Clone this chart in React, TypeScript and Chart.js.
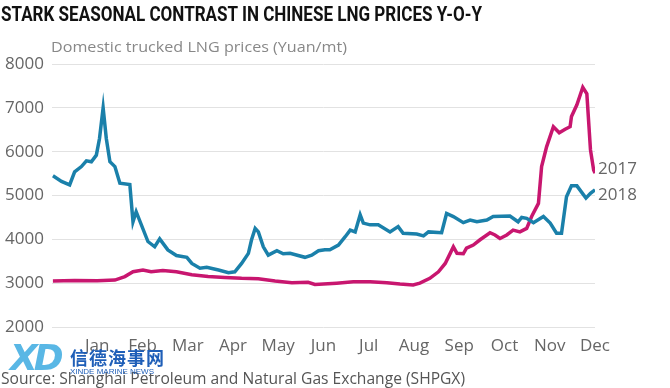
import React, { useEffect, useRef } from "react";
import { Chart, registerables } from "chart.js";

Chart.register(...registerables);

const monthLabels = ["Jan", "Feb", "Mar", "Apr", "May", "Jun", "Jul", "Aug", "Sep", "Oct", "Nov", "Dec"];
const yTicks = [2000, 3000, 4000, 5000, 6000, 7000, 8000];

// 2018 series (blue): x in month units (0 = start of axis, 12 = Dec), y in Yuan/mt
const x2018 = [0.02, 0.21, 0.39, 0.5, 0.65, 0.76, 0.87, 0.98, 1.05, 1.13, 1.2, 1.28, 1.39, 1.5, 1.72, 1.79, 1.86, 2.12, 2.27, 2.38, 2.56, 2.75, 2.98, 3.09, 3.27, 3.42, 3.68, 3.9, 4.04, 4.19, 4.34, 4.41, 4.49, 4.56, 4.67, 4.78, 4.97, 5.11, 5.26, 5.59, 5.74, 5.89, 6.03, 6.14, 6.33, 6.48, 6.59, 6.7, 6.81, 6.88, 7.03, 7.21, 7.47, 7.65, 7.76, 8.06, 8.21, 8.32, 8.61, 8.72, 8.87, 9.09, 9.24, 9.39, 9.61, 9.75, 10.12, 10.3, 10.38, 10.49, 10.64, 10.86, 11.01, 11.15, 11.26, 11.37, 11.48, 11.6, 11.8, 11.9, 12.0];
const y2018 = [5450, 5320, 5240, 5540, 5660, 5790, 5770, 5920, 6300, 7000, 6300, 5770, 5660, 5280, 5250, 4400, 4630, 3950, 3830, 4010, 3760, 3630, 3590, 3450, 3340, 3360, 3300, 3240, 3260, 3450, 3680, 3990, 4250, 4170, 3830, 3640, 3740, 3670, 3680, 3590, 3640, 3740, 3760, 3760, 3870, 4060, 4210, 4170, 4560, 4370, 4330, 4330, 4170, 4290, 4140, 4120, 4080, 4170, 4150, 4590, 4520, 4380, 4440, 4400, 4440, 4520, 4530, 4400, 4500, 4480, 4380, 4520, 4370, 4140, 4140, 4970, 5220, 5220, 4940, 5050, 5130];

// 2017 series (magenta)
const x2017 = [0.02, 0.5, 1.0, 1.39, 1.61, 1.79, 2.01, 2.19, 2.45, 2.75, 3.09, 3.45, 3.82, 4.19, 4.56, 4.93, 5.3, 5.66, 5.81, 6.29, 6.66, 7.03, 7.4, 7.69, 7.98, 8.13, 8.35, 8.54, 8.69, 8.8, 8.87, 8.95, 9.09, 9.16, 9.31, 9.46, 9.68, 9.79, 9.9, 10.05, 10.19, 10.34, 10.49, 10.6, 10.75, 10.82, 10.93, 11.08, 11.21, 11.34, 11.45, 11.48, 11.6, 11.73, 11.82, 11.9, 11.97, 12.0];
const y2017 = [3050, 3060, 3055, 3070, 3150, 3260, 3300, 3260, 3290, 3260, 3190, 3150, 3130, 3110, 3100, 3050, 3010, 3020, 2970, 3000, 3030, 3030, 3010, 2980, 2960, 3000, 3110, 3260, 3450, 3680, 3830, 3680, 3670, 3800, 3870, 3990, 4150, 4100, 4020, 4100, 4210, 4170, 4250, 4520, 4820, 5660, 6110, 6570, 6430, 6510, 6570, 6800, 7070, 7470, 7320, 6040, 5580, 5510];

const seriesNames = ["2017", "2018"];

const BLUE = "#1a80aa";
const MAGENTA = "#c8166f";

function FitText(props: { text: string; width: number; style: React.CSSProperties }) {
  const ref = useRef<HTMLSpanElement | null>(null);
  useEffect(() => {
    const el = ref.current;
    if (!el) return;
    el.style.transform = "none";
    const w = el.getBoundingClientRect().width;
    if (w > 0) el.style.transform = `scaleX(${props.width / w})`;
  }, [props.text, props.width]);
  return (
    <span
      ref={ref}
      style={{ position: "absolute", whiteSpace: "nowrap", transformOrigin: "0 50%", ...props.style }}
    >
      {props.text}
    </span>
  );
}

export default function App() {
  const canvasRef = useRef<HTMLCanvasElement | null>(null);

  useEffect(() => {
    document.body.style.margin = "0";
    const canvas = canvasRef.current;
    if (!canvas) return;
    const chart = new Chart(canvas, {
      type: "line",
      data: {
        datasets: [
          {
            label: seriesNames[1],
            data: x2018.map((x, i) => ({ x, y: y2018[i] })),
            borderColor: BLUE,
            borderWidth: 3.5,
            pointRadius: 0,
            tension: 0,
            fill: false,
          },
          {
            label: seriesNames[0],
            data: x2017.map((x, i) => ({ x, y: y2017[i] })),
            borderColor: MAGENTA,
            borderWidth: 3.5,
            pointRadius: 0,
            tension: 0,
            fill: false,
          },
        ],
      },
      options: {
        animation: false,
        responsive: false,
        maintainAspectRatio: false,
        layout: { padding: { left: 0, right: 75, top: 64, bottom: 31 } },
        plugins: { legend: { display: false }, tooltip: { enabled: false }, title: { display: false } },
        scales: {
          x: {
            type: "linear",
            min: 0,
            max: 12,
            afterFit: (s: any) => {
              s.height = 30;
            },
            afterBuildTicks: (s: any) => {
              s.ticks = monthLabels.map((_, i) => ({ value: i + 1 }));
            },
            grid: { display: false, drawTicks: false },
            border: { display: false },
            ticks: {
              autoSkip: false,
              maxRotation: 0,
              padding: 9,
              color: "#666",
              font: { family: "'Open Sans'", size: 17 },
              callback: (v: any) => monthLabels[Math.round(Number(v)) - 1] ?? "",
            },
          },
          y: {
            min: 2000,
            max: 8000,
            afterFit: (s: any) => {
              s.width = 52;
            },
            afterBuildTicks: (s: any) => {
              s.ticks = yTicks.map((v) => ({ value: v }));
            },
            grid: { color: "#e2e2e2", lineWidth: 1, drawTicks: false },
            border: { display: false },
            ticks: {
              padding: 8,
              color: "#666",
              font: { family: "'Open Sans'", size: 17 },
              callback: (v: any) => String(v),
            },
          },
        },
      },
    });
    return () => chart.destroy();
  }, []);

  return (
    <div
      style={{
        position: "relative",
        width: 670,
        height: 388,
        background: "#fff",
        overflow: "hidden",
        fontFamily: "'Open Sans', sans-serif",
      }}
    >
      <canvas ref={canvasRef} width={670} height={388} style={{ position: "absolute", left: 0, top: 0 }} />
      <FitText
        text="STARK SEASONAL CONTRAST IN CHINESE LNG PRICES Y-O-Y"
        width={481}
        style={{ left: 1, top: 1, fontFamily: "Roboto", fontWeight: 700, fontSize: 20, color: "#111", lineHeight: "26px" }}
      />
      <FitText
        text="Domestic trucked LNG prices (Yuan/mt)"
        width={296}
        style={{ left: 51, top: 37, fontFamily: "'Open Sans'", fontSize: 14, color: "#888", lineHeight: "20px" }}
      />
      <span style={{ position: "absolute", left: 598, top: 156, fontSize: 17, color: "#666", lineHeight: "24px" }}>
        {seriesNames[0]}
      </span>
      <span style={{ position: "absolute", left: 598, top: 182, fontSize: 17, color: "#666", lineHeight: "24px" }}>
        {seriesNames[1]}
      </span>
      <FitText
        text="Source: Shanghai Petroleum and Natural Gas Exchange (SHPGX)"
        width={464}
        style={{ left: 1, top: 366, fontFamily: "'Open Sans'", fontSize: 17, color: "#555", lineHeight: "24px" }}
      />
      <span
        style={{
          position: "absolute",
          left: 10,
          top: 336,
          fontFamily: "'DejaVu Sans'",
          fontWeight: 700,
          fontStyle: "italic",
          fontSize: 36,
          color: "rgba(60,170,225,0.85)",
          lineHeight: "44px",
          letterSpacing: -4,
        }}
      >
        XD
      </span>
      <span
        style={{
          position: "absolute",
          left: 70,
          top: 346,
          fontFamily: "'Noto Sans CJK SC'",
          fontWeight: 700,
          fontSize: 18,
          color: "#1f5fb8",
          lineHeight: "22px",
          letterSpacing: 1,
        }}
      >
        信德海事网
      </span>
      <span
        style={{
          position: "absolute",
          left: 70,
          top: 367,
          fontFamily: "'Liberation Sans'",
          fontSize: 8,
          color: "#1f5fb8",
          lineHeight: "10px",
        }}
      >
        XINDE MARINE NEWS
      </span>
    </div>
  );
}
